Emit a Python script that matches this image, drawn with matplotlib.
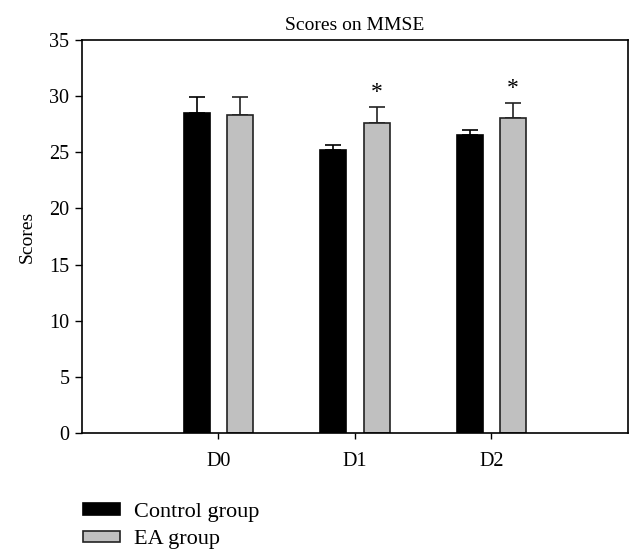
import matplotlib.pyplot as plt
import numpy as np

# dados do grafico (MMSE)
dias = ["D0", "D1", "D2"]
controle = [28.5, 25.2, 26.5]
controle_err = [1.4, 0.45, 0.5]
ea = [28.3, 27.6, 28.05]
ea_err = [1.6, 1.4, 1.35]
asteriscos = ["", "*", "*"]

plt.rcParams["font.family"] = ["Liberation Serif", "DejaVu Serif"]

fig = plt.figure(figsize=(6.42, 5.6), dpi=100)
ax = fig.add_axes([0.1277, 0.2268, 0.8505, 0.7018])

x = np.arange(len(dias))
w = 0.19
off = 0.158

ax.bar(x - off, controle, w, color="black", edgecolor="black", linewidth=1.2,
       label="Control group", zorder=2)
ax.bar(x + off, ea, w, color="#c0c0c0", edgecolor="#222222", linewidth=1.2,
       label="EA group", zorder=2)

# barras de erro so para cima
ax.errorbar(x - off, controle, yerr=[np.zeros(3), controle_err], fmt="none",
            ecolor="black", elinewidth=1.2, capsize=5.5, capthick=1.2, zorder=1)
ax.errorbar(x + off, ea, yerr=[np.zeros(3), ea_err], fmt="none",
            ecolor="#222222", elinewidth=1.2, capsize=5.5, capthick=1.2, zorder=1)

for i, s in enumerate(asteriscos):
    if s:
        ax.text(x[i] + off, ea[i] + ea_err[i] + 0.35, s, ha="center", va="bottom",
                fontsize=17)

ax.set_xlim(-1, 3)
ax.set_ylim(0, 35)
ax.set_yticks(range(0, 36, 5))
ax.set_xticks(x)
ax.set_xticklabels(dias)
ax.tick_params(axis="both", direction="out", labelsize=14.5, width=1, color="black")
ax.tick_params(axis="x", length=4, pad=10)
ax.tick_params(axis="y", length=5, pad=4)
for sp in ax.spines.values():
    sp.set_linewidth(1.2)

ax.set_ylabel("Scores", fontsize=14, labelpad=10)
ax.set_title("Scores on MMSE", fontsize=14, pad=7)

fig.legend(loc="upper left", bbox_to_anchor=(0.115, 0.118), frameon=False,
           fontsize=16, handlelength=1.7, handleheight=0.42, handletextpad=0.6,
           labelspacing=0.38, borderaxespad=0)

fig.savefig("out.png", dpi=100)
